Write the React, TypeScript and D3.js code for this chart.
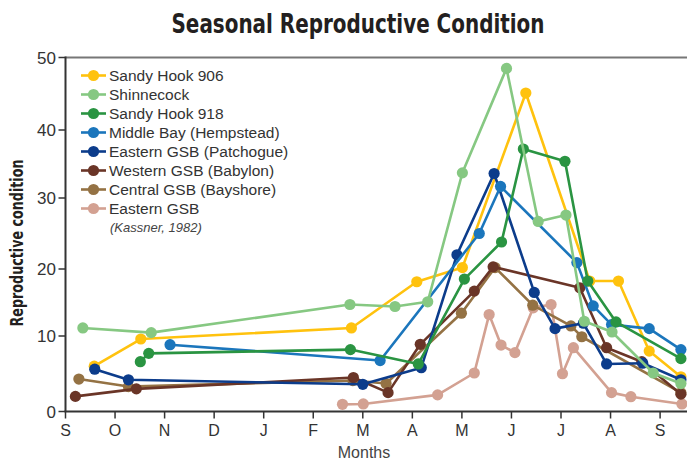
import React from "react";
import * as d3 from "d3";

// values; x = months since 1 Sep, y = reproductive condition
const monthLabels = ["S", "O", "N", "D", "J", "F", "M", "A", "M", "J", "J", "A", "S"];
const yTicks = [0, 10, 20, 30, 40, 50];

const sandyHook906: [number, number][] = [
  [0.58, 6.0], [1.52, 9.6], [5.77, 11.2], [7.09, 18.1], [8.01, 20.2],
  [9.29, 45.1], [10.58, 18.2], [11.16, 18.2], [11.78, 8.0], [12.42, 4.6],
];
const shinnecock: [number, number][] = [
  [0.35, 11.2], [1.73, 10.5], [5.74, 14.7], [6.65, 14.4], [7.31, 15.1], [8.01, 33.7],
  [8.9, 48.5], [9.54, 26.7], [10.1, 27.6], [10.47, 12.2], [11.03, 10.6], [11.86, 5.1], [12.42, 3.7],
];
const sandyHook918: [number, number][] = [
  [1.51, 6.6], [1.68, 7.7], [5.75, 8.2], [7.12, 6.3], [8.05, 18.5], [8.8, 23.8],
  [9.24, 37.2], [10.08, 35.4], [10.54, 18.2], [11.11, 12.1], [12.42, 7.0],
];
const middleBay: [number, number][] = [
  [2.11, 8.85], [6.35, 6.75], [8.35, 25.0], [8.78, 31.7], [10.32, 20.9],
  [10.65, 14.5], [11.02, 11.7], [11.78, 11.1], [12.42, 8.2],
];
const patchogue: [number, number][] = [
  [0.59, 5.6], [1.27, 4.2], [6.0, 3.6], [7.18, 5.8], [7.9, 22.0], [8.65, 33.6],
  [9.46, 16.5], [9.88, 11.1], [10.45, 11.9], [10.92, 6.3], [11.65, 6.4], [12.42, 4.2],
];
const babylon: [number, number][] = [
  [0.2, 2.0], [1.43, 3.0], [5.81, 4.5], [6.51, 2.5], [7.16, 8.9], [8.25, 16.7],
  [8.63, 20.3], [10.38, 17.2], [10.92, 8.45], [11.63, 6.6], [12.42, 2.3],
];
const bayshore: [number, number][] = [
  [0.27, 4.3], [1.27, 3.3], [5.8, 4.1], [6.47, 3.7], [7.99, 13.4], [8.67, 20.2],
  [9.43, 14.6], [10.2, 11.5], [10.42, 9.9], [12.42, 2.5],
];
const kassner: [number, number][] = [
  [5.59, 0.95], [6.01, 1.0], [7.51, 2.2], [8.25, 5.1], [8.55, 13.2], [8.79, 8.8], [9.07, 7.8],
  [9.44, 14.2], [9.8, 14.7], [10.03, 5.0], [10.25, 8.45], [11.02, 2.5], [11.41, 1.96], [12.44, 1.0],
];

const series = [
  { name: "Sandy Hook 906", color: "#ffc20e", data: sandyHook906 },
  { name: "Shinnecock", color: "#86c882", data: shinnecock },
  { name: "Sandy Hook 918", color: "#2a9442", data: sandyHook918 },
  { name: "Middle Bay (Hempstead)", color: "#1b76bc", data: middleBay },
  { name: "Eastern GSB (Patchogue)", color: "#0c3c8b", data: patchogue },
  { name: "Western GSB (Babylon)", color: "#6a3527", data: babylon },
  { name: "Central GSB (Bayshore)", color: "#947244", data: bayshore },
  { name: "Eastern GSB", color: "#d3a192", data: kassner },
];
// bottom -> top
const drawOrder = [7, 6, 5, 0, 4, 3, 2, 1];

const W = 687;
const H = 462;
const left = 65.5;
const bottom = 411.5;
const top = 57.5;

const x = d3.scaleLinear().domain([0, 12.5]).range([left, left + 12.5 * 49.55]);
// the printed axis is not evenly spaced, so map each tick separately
const y = d3.scaleLinear().domain(yTicks).range([411.5, 336, 269, 198, 130, 57.5]);

const line = d3
  .line<[number, number]>()
  .x((d) => x(d[0]))
  .y((d) => y(d[1]));

const textFont = "'Liberation Sans', Arial, sans-serif";
const boldFont = "'Liberation Sans Narrow', 'DejaVu Sans Condensed', 'Roboto', sans-serif";

export default function App() {
  return (
    <svg
      width={W}
      height={H}
      style={{ position: "absolute", left: 0, top: 0, background: "#fff" }}
      fontFamily={textFont}
    >
      <text
        x={358}
        y={33}
        textAnchor="middle"
        fontFamily={boldFont}
        fontWeight="bold"
        fontSize={26}
        fill="#231f20"
        textLength={373}
        lengthAdjust="spacingAndGlyphs"
      >
        Seasonal Reproductive Condition
      </text>

      {/* frame */}
      <line x1={left} x2={W} y1={top} y2={top} stroke="#777" strokeWidth={2} />
      <line x1={left} x2={left} y1={top - 1} y2={bottom} stroke="#333" strokeWidth={2} />
      <line x1={left - 1} x2={W} y1={bottom} y2={bottom} stroke="#333" strokeWidth={2} />

      {yTicks.map((t) => (
        <g key={t}>
          <line x1={left - 7} x2={left} y1={y(t)} y2={y(t)} stroke="#333" strokeWidth={1.5} />
          <text x={56} y={y(t) + 6} textAnchor="end" fontSize={17} fill="#333">
            {t}
          </text>
        </g>
      ))}
      {monthLabels.map((m, i) => (
        <g key={i}>
          <line x1={x(i)} x2={x(i)} y1={bottom} y2={bottom + 7} stroke="#333" strokeWidth={1.5} />
          <text x={x(i)} y={436} textAnchor="middle" fontSize={16} fill="#333">
            {m}
          </text>
        </g>
      ))}
      <text x={364} y={458} textAnchor="middle" fontSize={16} fill="#444">
        Months
      </text>
      <text
        transform="translate(23,243) rotate(-90)"
        textAnchor="middle"
        fontFamily={boldFont}
        fontWeight="bold"
        fontSize={17}
        fill="#231f20"
        textLength={167}
        lengthAdjust="spacingAndGlyphs"
      >
        Reproductive condition
      </text>

      {drawOrder.map((i) => {
        const s = series[i];
        return (
          <g key={s.name}>
            <path d={line(s.data) ?? ""} fill="none" stroke={s.color} strokeWidth={2.6} strokeLinejoin="round" />
            {s.data.map((d, j) => (
              <circle key={j} cx={x(d[0])} cy={y(d[1])} r={5.6} fill={s.color} />
            ))}
          </g>
        );
      })}

      {/* legend */}
      {series.map((s, i) => {
        const cy = 75.5 + i * 19;
        return (
          <g key={s.name}>
            <line x1={81} x2={106} y1={cy} y2={cy} stroke={s.color} strokeWidth={2.6} />
            <circle cx={93.5} cy={cy} r={5.6} fill={s.color} />
            <text x={109} y={cy + 5.5} fontSize={15.5} fill="#333">
              {s.name}
            </text>
          </g>
        );
      })}
      <text x={110} y={232} fontSize={13} fontStyle="italic" fill="#444">
        (Kassner, 1982)
      </text>
    </svg>
  );
}
